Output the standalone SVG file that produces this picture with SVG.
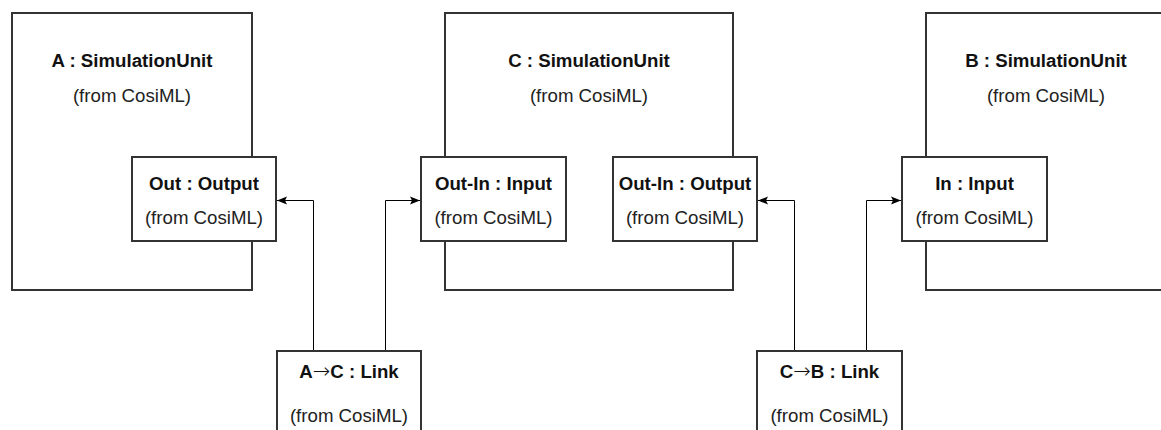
<svg xmlns="http://www.w3.org/2000/svg" width="1161" height="430" viewBox="0 0 1161 430">
<style>
.box{fill:#fff;stroke:#333;stroke-width:2}
.t{font-family:"Liberation Sans",Arial,sans-serif;font-size:18.67px;font-weight:bold;fill:#111;text-anchor:middle}
.s{font-family:"Liberation Sans",Arial,sans-serif;font-size:18.67px;fill:#222;text-anchor:middle}
.ar{font-family:"DejaVu Sans",sans-serif;font-weight:200;font-size:21px}
.c{fill:none;stroke:#000;stroke-width:1}
</style>
<defs>
<marker id="arr" viewBox="0 0 10 10" refX="10" refY="5" markerWidth="10" markerHeight="10" markerUnits="userSpaceOnUse" orient="auto">
<path d="M0,1 L10,5 L0,9 L2,5 Z" fill="#000"/>
</marker>
</defs>
<rect width="1161" height="430" fill="#fff"/>
<g id="unitA">
<rect class="box" x="12" y="13" width="240" height="277"/>
<text class="t" x="132" y="66.5">A : SimulationUnit</text>
<text class="s" x="132" y="102">(from CosiML)</text>
</g>
<g id="unitC">
<rect class="box" x="445" y="13" width="288" height="277"/>
<text class="t" x="589" y="66.5">C : SimulationUnit</text>
<text class="s" x="589" y="102">(from CosiML)</text>
</g>
<g id="unitB">
<rect class="box" x="926" y="13" width="240" height="277"/>
<text class="t" x="1046" y="66.5">B : SimulationUnit</text>
<text class="s" x="1046" y="102">(from CosiML)</text>
</g>
<g id="portAOut">
<rect class="box" x="132" y="157" width="144" height="84"/>
<text class="t" x="204" y="190">Out : Output</text>
<text class="s" x="204" y="224">(from CosiML)</text>
</g>
<g id="portCIn">
<rect class="box" x="421" y="157" width="145" height="84"/>
<text class="t" x="493.5" y="190">Out-In : Input</text>
<text class="s" x="493.5" y="224">(from CosiML)</text>
</g>
<g id="portCOut">
<rect class="box" x="613" y="157" width="144" height="84"/>
<text class="t" x="685" y="190">Out-In : Output</text>
<text class="s" x="685" y="224">(from CosiML)</text>
</g>
<g id="portBIn">
<rect class="box" x="902" y="157" width="145" height="84"/>
<text class="t" x="974.5" y="190">In : Input</text>
<text class="s" x="974.5" y="224">(from CosiML)</text>
</g>
<g id="linkAC">
<rect class="box" x="277" y="351" width="144" height="90"/>
<text class="t" x="349" y="378">A<tspan class="ar">→</tspan>C : Link</text>
<text class="s" x="349" y="422">(from CosiML)</text>
</g>
<g id="linkCB">
<rect class="box" x="757" y="351" width="145" height="90"/>
<text class="t" x="829.5" y="378">C<tspan class="ar">→</tspan>B : Link</text>
<text class="s" x="829.5" y="422">(from CosiML)</text>
</g>
<g id="connectors">
<path class="c" d="M313.5,350 V200.5 H277" marker-end="url(#arr)"/>
<path class="c" d="M385.5,350 V200.5 H420" marker-end="url(#arr)"/>
<path class="c" d="M794.5,350 V200.5 H758" marker-end="url(#arr)"/>
<path class="c" d="M866.5,350 V200.5 H901" marker-end="url(#arr)"/>
</g>
</svg>
